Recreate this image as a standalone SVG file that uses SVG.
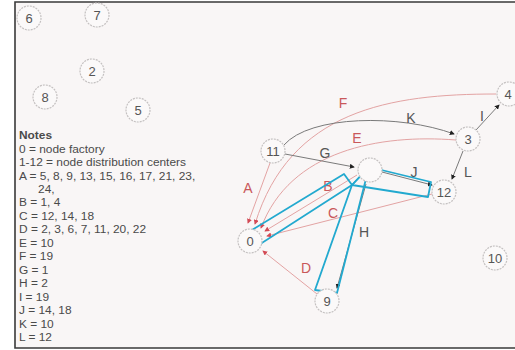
<svg xmlns="http://www.w3.org/2000/svg" width="515" height="350" viewBox="0 0 515 350">
<style>
.bg{fill:#f9f6f6}
.frame{fill:none;stroke:#3a3a3a;stroke-width:1.6}
.node circle{fill:#fbf9f9;stroke:#c4c0c0;stroke-width:1.2;stroke-dasharray:2 1}
.node text{font-family:"Liberation Sans",Arial,sans-serif;font-size:13px;fill:#555;text-anchor:middle;dominant-baseline:central}
.red{fill:none;stroke:#e3a3a3;stroke-width:1}
.gray{fill:none;stroke:#7a7a7a;stroke-width:1}
.hl{fill:none;stroke:#22a9cf;stroke-width:1.8;stroke-linejoin:round}
.lbl{font-family:"Liberation Sans",Arial,sans-serif;font-size:14px;text-anchor:middle;dominant-baseline:central}
.lr{fill:#c9585a}
.lg{fill:#555}
.notes{font-family:"Liberation Sans",Arial,sans-serif;font-size:10px;fill:#4a4a4a}
</style>
<defs>
<marker id="ar" viewBox="0 0 6 6" refX="5" refY="3" markerWidth="5" markerHeight="5" orient="auto" markerUnits="userSpaceOnUse">
<path d="M0,0 L6,3 L0,6 z" fill="#d34a55"/>
</marker>
<marker id="ag" viewBox="0 0 6 6" refX="5" refY="3" markerWidth="5" markerHeight="5" orient="auto" markerUnits="userSpaceOnUse">
<path d="M0,0 L6,3 L0,6 z" fill="#222"/>
</marker>
</defs>
<rect x="0" y="0" width="515" height="350" fill="#ffffff"/>
<rect class="bg" x="15" y="2" width="500" height="346"/>
<path class="frame" d="M515,2 L15,2 L15,348 L515,348"/>

<g id="connectors">
<path id="edge-A" class="red" d="M270,163 L248,223" marker-end="url(#ar)"/>
<path id="edge-F" class="red" d="M496,94 C390,94 290,110 255,224" marker-end="url(#ar)"/>
<path id="edge-E" class="red" d="M456,140 C380,134 290,150 261,228" marker-end="url(#ar)"/>
<path id="edge-B" class="red" d="M357,175 L265,231" marker-end="url(#ar)"/>
<path id="edge-C" class="red" d="M432,194 L267,236" marker-end="url(#ar)"/>
<path id="edge-D" class="red" d="M317,294 L263,251" marker-end="url(#ar)"/>
<path id="edge-K" class="gray" d="M284,145 C310,115 400,114 454,134" marker-end="url(#ag)"/>
<path id="edge-G" class="gray" d="M285,154 L354,167" marker-end="url(#ag)"/>
<path id="edge-H" class="gray" d="M366,184 L337,288" marker-end="url(#ag)"/>
<path id="edge-J" class="gray" d="M382,172 L432,185" marker-end="url(#ag)"/>
<path id="edge-I" class="gray" d="M476,130 L499,105" marker-end="url(#ag)"/>
<path id="edge-L" class="gray" d="M463,151 L452,179" marker-end="url(#ag)"/>
<text class="lbl lr" x="343" y="103">F</text>
<text class="lbl lg" x="411" y="118">K</text>
<text class="lbl lg" x="482" y="116">I</text>
<text class="lbl lr" x="357" y="138">E</text>
<text class="lbl lg" x="325" y="153">G</text>
<text class="lbl lg" x="468" y="172">L</text>
<text class="lbl lg" x="414" y="172">J</text>
<text class="lbl lr" x="328" y="186">B</text>
<text class="lbl lr" x="248" y="188">A</text>
<text class="lbl lr" x="333" y="213">C</text>
<text class="lbl lg" x="364" y="232">H</text>
<text class="lbl lr" x="306" y="268">D</text>
</g>

<g id="highlight">
<polygon class="hl" points="247,233 344,174 352,185 254,248"/>
<polygon class="hl" points="369,167 431,182 428,197 352,185"/>
<polygon class="hl" points="369,167 337,293 315,290 352,185"/>
</g>

<g id="node-6" class="node"><circle cx="29" cy="18" r="12"/><text x="29" y="18">6</text></g>
<g id="node-7" class="node"><circle cx="97" cy="15" r="12"/><text x="97" y="15">7</text></g>
<g id="node-2" class="node"><circle cx="92" cy="71" r="12"/><text x="92" y="71">2</text></g>
<g id="node-8" class="node"><circle cx="45" cy="97" r="12"/><text x="45" y="97">8</text></g>
<g id="node-5" class="node"><circle cx="138" cy="110" r="12"/><text x="138" y="110">5</text></g>
<g id="node-11" class="node"><circle cx="273" cy="151" r="12"/><text x="273" y="151">11</text></g>
<g id="node-4" class="node"><circle cx="509" cy="94" r="12"/><text x="508" y="94">4</text></g>
<g id="node-3" class="node"><circle cx="468" cy="139" r="12"/><text x="468" y="139">3</text></g>
<g id="node-12" class="node"><circle cx="444" cy="192" r="12"/><text x="444" y="192">12</text></g>
<g id="node-1" class="node"><circle cx="370" cy="170" r="12"/></g>
<g id="node-0" class="node"><circle cx="250" cy="241" r="12"/><text x="250" y="241">0</text></g>
<g id="node-9" class="node"><circle cx="327" cy="301" r="12"/><text x="327" y="301">9</text></g>
<g id="node-10" class="node"><circle cx="495" cy="258" r="12"/><text x="495" y="258">10</text></g>

<g id="notes" class="notes" transform="translate(19,0) scale(1.19,1)">
<text x="0" y="139" font-weight="bold">Notes</text>
<text x="0" y="153">0 = node factory</text>
<text x="0" y="166">1-12 = node distribution centers</text>
<text x="0" y="180">A = 5, 8, 9, 13, 15, 16, 17, 21, 23,</text>
<text x="16" y="193">24,</text>
<text x="0" y="206">B = 1, 4</text>
<text x="0" y="220">C = 12, 14, 18</text>
<text x="0" y="233">D = 2, 3, 6, 7, 11, 20, 22</text>
<text x="0" y="247">E = 10</text>
<text x="0" y="260">F = 19</text>
<text x="0" y="274">G = 1</text>
<text x="0" y="287">H = 2</text>
<text x="0" y="301">I = 19</text>
<text x="0" y="314">J = 14, 18</text>
<text x="0" y="328">K = 10</text>
<text x="0" y="341">L = 12</text>
</g>
</svg>
